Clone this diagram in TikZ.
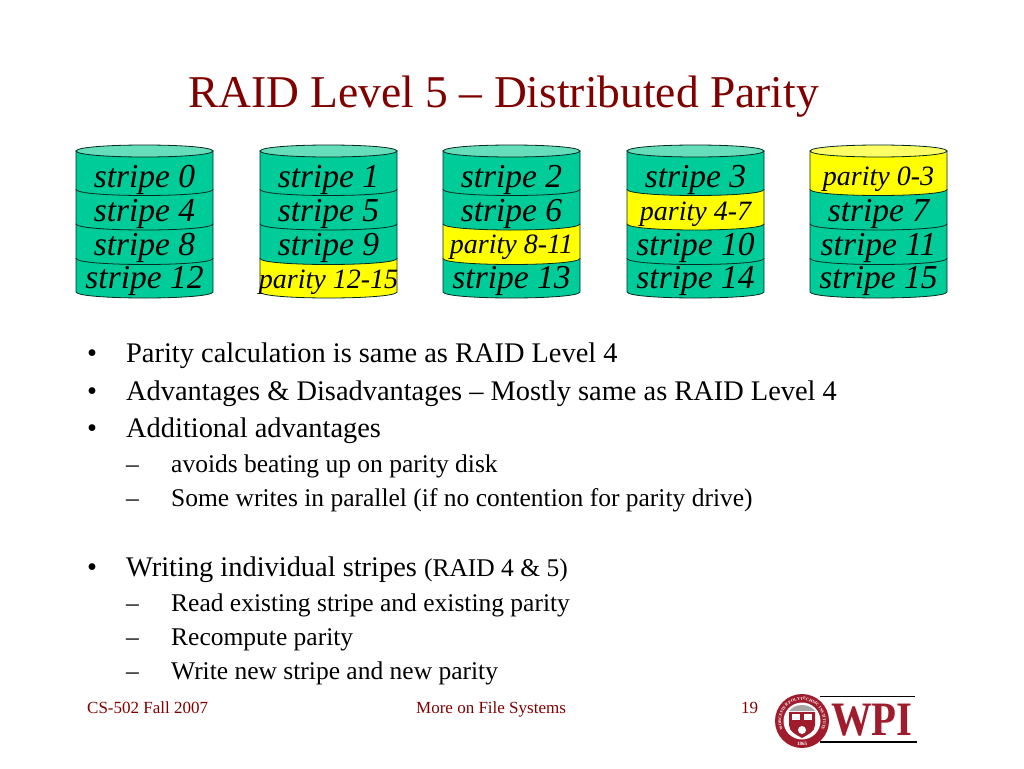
\documentclass[tikz,border=0pt]{standalone}
\usepackage{fontspec}
\setmainfont{Liberation Serif}
\usepackage{tikz}
\usetikzlibrary{positioning,decorations.text}
\definecolor{titlered}{HTML}{800000}
\definecolor{wpired}{HTML}{A01C2C}
\definecolor{diskgreen}{HTML}{00CC99}
\definecolor{disktop}{HTML}{66DDBB}
\definecolor{parityyellow}{HTML}{FFFF00}
\definecolor{paritytop}{HTML}{FFFF66}
\newcommand{\fsz}[1]{\fontsize{#1}{#1}\selectfont}
\begin{document}
\begin{tikzpicture}[
  x=1pt, y=-1pt,
  txt/.style={inner sep=0pt, anchor=base west, text=black},
  mainitem/.style={txt, font=\fsz{28.4}},
  subitem/.style={txt, font=\fsz{25.5}},
  foot/.style={txt, text=titlered, font=\fsz{17}},
  stripeband/.style={draw=black!80!diskgreen, thick, fill=diskgreen},
  parityband/.style={draw=black!80!diskgreen, thick, fill=parityyellow},
  stripelabel/.style={inner sep=0pt, font=\fsz{33.5}\itshape},
  paritylabel/.style={inner sep=0pt, font=\fsz{28}\itshape}
]
  \useasboundingbox (0,0) rectangle (1024,768);
  \node[txt, text=titlered, font=\fsz{45.5}] (title) at (188,107) {RAID Level 5 -- Distributed Parity};

  % bands go bottom first, so each one laps the one below
  \foreach \nm/\xl/\yt/\yb/\yl/\kind/\lab in {
    a4/76/258.5/292/288.5/stripe/stripe 12, a3/76/224/258.5/255.5/stripe/stripe 8,
    a2/76/189.5/224/221/stripe/stripe 4, a1/76/151/189.5/187/stripe/stripe 0,
    b4/260/258.5/292/288/parity/parity 12-15, b3/260/224/258.5/255.5/stripe/stripe 9,
    b2/260/189.5/224/221/stripe/stripe 5, b1/260/151/189.5/187/stripe/stripe 1,
    c4/443/258.5/292/288.5/stripe/stripe 13, c3/443/224/258.5/253/parity/parity 8-11,
    c2/443/189.5/224/221/stripe/stripe 6, c1/443/151/189.5/187/stripe/stripe 2,
    d4/627/258.5/292/288.5/stripe/stripe 14, d3/627/224/258.5/255.5/stripe/stripe 10,
    d2/627/189.5/224/220/parity/parity 4-7, d1/627/151/189.5/187/stripe/stripe 3,
    e4/810/258.5/292/288.5/stripe/stripe 15, e3/810/224/258.5/255.5/stripe/stripe 11,
    e2/810/189.5/224/221/stripe/stripe 7, e1/810/151/189.5/185/parity/parity 0-3} {
    \draw[\kind band] (\xl,\yt) -- (\xl,\yb)
      .. controls (\xl+2,\yb+8) and (\xl+135,\yb+8) .. (\xl+137,\yb)
      -- (\xl+137,\yt) -- cycle;
    \node[\kind label, anchor=base] (\nm) at (\xl+68.5,\yl) {\lab};
  }
  % disk lids
  \foreach \nm/\xl/\lidcol in {lida/76/disktop, lidb/260/disktop, lidc/443/disktop, lidd/627/disktop, lide/810/paritytop} {
    \draw[draw=black!80!diskgreen, thick, fill=\lidcol] (\xl,151)
      .. controls (\xl+2,143) and (\xl+135,143) .. (\xl+137,151)
      .. controls (\xl+135,159) and (\xl+2,159) .. (\xl,151) -- cycle;
  }

  \node[mainitem] (b1) at (87,362) {•};
  \node[mainitem] (t1) at (126,362) {Parity calculation is same as RAID Level 4};
  \node[mainitem] (b2) at (87,400) {•};
  \node[mainitem] (t2) at (126,400) {Advantages \& Disadvantages -- Mostly same as RAID Level 4};
  \node[mainitem] (b3) at (87,437) {•};
  \node[mainitem] (t3) at (126,437) {Additional advantages};
  \node[subitem] (d1) at (126,472) {--};
  \node[subitem] (s1) at (171,472) {avoids beating up on parity disk};
  \node[subitem] (d2) at (126,506) {--};
  \node[subitem] (s2) at (171,506) {Some writes in parallel (if no contention for parity drive)};
  \node[mainitem] (b4) at (87,576) {•};
  \node[mainitem] (t4) at (126,576) {Writing individual stripes {\fsz{25.5}(RAID 4 \& 5)}};
  \node[subitem] (d3) at (126,611) {--};
  \node[subitem] (s3) at (171,611) {Read existing stripe and existing parity};
  \node[subitem] (d4) at (126,645) {--};
  \node[subitem] (s4) at (171,645) {Recompute parity};
  \node[subitem] (d5) at (126,679) {--};
  \node[subitem] (s5) at (171,679) {Write new stripe and new parity};

  \node[foot] (course) at (87,713) {CS-502 Fall 2007};
  \node[foot] (topic) at (416,713) {More on File Systems};
  \node[foot] (page) at (741,713) {19};

  % logo
  \draw[black, line width=1pt] (820,696) -- (915,696);
  \draw[black, line width=1.5pt] (820,742) -- (917,742);
  \fill[wpired] (802,721) circle[radius=27];
  \fill[white] (802,721) circle[radius=18.5];
  \fill[black!35] (789,711) .. controls (795,703) and (809,703) .. (815,711) -- cycle;
  \fill[wpired] (789,712) -- (815,712) -- (815,725) .. controls (815,732) and (807,735) .. (802,738)
    .. controls (797,735) and (789,732) .. (789,725) -- cycle;
  \fill[white] (792,714) rectangle (800,720);
  \fill[white] (804,714) rectangle (812,720);
  \fill[white] (802,730) circle[radius=4];
  \path[postaction={decorate, decoration={text along path, text align=center,
      text={|\fsz{4.2}\bfseries\color{white}|WORCESTER POLYTECHNIC INSTITUTE}}}]
    (786,734.5) .. controls (774.6,720.9) and (784.2,700) .. (802,700)
    .. controls (819.8,700) and (829.4,720.9) .. (818,734.5);
  \node[inner sep=0pt, text=white, font=\fsz{5}\bfseries] (founded) at (802,744) {1865};
  \node[inner sep=0pt, anchor=base west, text=wpired, font=\fsz{48}\bfseries, xscale=0.85] (wpi) at (831,735) {WPI};
\end{tikzpicture}
\end{document}
